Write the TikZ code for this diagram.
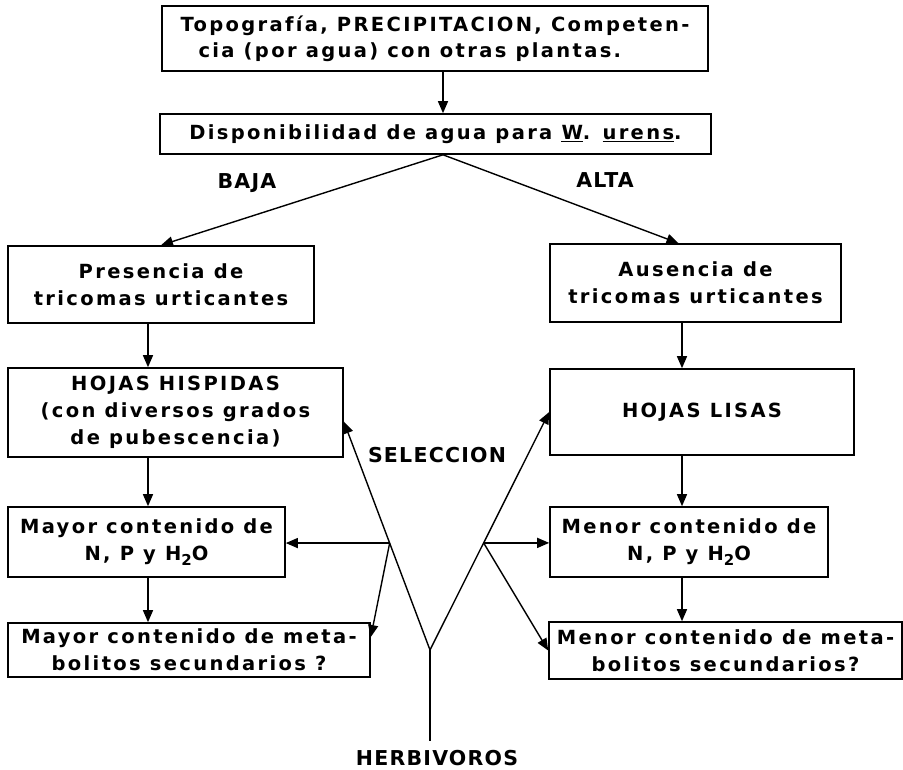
\documentclass[tikz,border=0pt]{standalone}
\usepackage{fontspec}
\usepackage{tikz}
\usetikzlibrary{arrows.meta}
\newfontfamily\rotulador{DejaVu Sans Bold}[LetterSpace=12]
\newfontfamily\rotuladoretiq{DejaVu Sans Bold}[LetterSpace=6]
\newcommand{\hdos}{H\raisebox{-5pt}{\fontsize{15}{15}\selectfont 2}O}

\begin{document}
\begin{tikzpicture}[x=1pt, y=-1pt,
    caja/.style={draw=black, line width=1.6pt, rectangle, inner sep=0pt, align=center,
        font=\rotulador\fontsize{19.5}{27}\selectfont},
    etiqueta/.style={font=\rotuladoretiq\fontsize{20.5}{24}\selectfont},
    flecha/.style={line width=1.4pt, -{Triangle[length=12pt,width=10pt]}},
    trazo/.style={line width=1.4pt}]
\useasboundingbox (0,0) rectangle (903,770);

\node [caja, minimum width=546pt, minimum height=65pt, align=left, font=\rotulador\fontsize{19.5}{26}\selectfont] (topografia) at (435,38.5) {Topografía, PRECIPITACION, Competen-\\\hspace*{18pt}cia (por agua) con otras plantas.};
\node [caja, minimum width=551pt, minimum height=40pt] (disponible) at (435.5,134) {Disponibilidad de agua para \underline{W}. \underline{urens}.};
\node [caja, minimum width=306pt, minimum height=77pt] (presencia) at (161,284.5) {Presencia de\\tricomas urticantes};
\node [caja, minimum width=291pt, minimum height=78pt] (ausencia) at (695.5,283) {Ausencia de\\tricomas urticantes};
\node [caja, minimum width=335pt, minimum height=89pt] (hispidas) at (175.5,412.5) {HOJAS HISPIDAS\\(con diversos grados\\de pubescencia)};
\node [caja, minimum width=304pt, minimum height=86pt] (lisas) at (702,412) {HOJAS LISAS};
\node [caja, minimum width=277pt, minimum height=70pt] (mayornp) at (146.5,542) {Mayor contenido de\\N, P y \hdos};
\node [caja, minimum width=278pt, minimum height=70pt] (menornp) at (689,542) {Menor contenido de\\N, P y \hdos};
\node [caja, minimum width=362pt, minimum height=54pt] (mayormet) at (189,650) {Mayor contenido de meta-\\bolitos secundarios ?};
\node [caja, minimum width=353pt, minimum height=57pt] (menormet) at (725.5,650.5) {Menor contenido de meta-\\bolitos secundarios?};

\node [etiqueta] (baja) at (247,183) {BAJA};
\node [etiqueta] (alta) at (605,180) {ALTA};
\node [etiqueta] (seleccion) at (437,455) {SELECCION};
\node [etiqueta] (herbivoros) at (437,758) {HERBIVOROS};

\coordinate (eje) at (443,0);
\coordinate (izq) at (148,0);
\coordinate (der) at (682,0);
\coordinate (horquilla) at (430,650);

\draw [flecha] (topografia.south -| eje) -- (disponible.north -| eje);
\draw [flecha] (disponible.south -| eje) -- (presencia.north);
\draw [flecha] (disponible.south -| eje) -- ([xshift=-17pt]ausencia.north);
\draw [flecha] (presencia.south -| izq) -- (hispidas.north -| izq);
\draw [flecha] (hispidas.south -| izq) -- (mayornp.north -| izq);
\draw [flecha] (mayornp.south -| izq) -- (mayormet.north -| izq);
\draw [flecha] (ausencia.south -| der) -- (lisas.north -| der);
\draw [flecha] (lisas.south -| der) -- (menornp.north -| der);
\draw [flecha] (menornp.south -| der) -- (menormet.north -| der);

\draw [trazo] ([yshift=6pt]herbivoros.north -| horquilla) -- (horquilla);
\draw [flecha] (horquilla) -- coordinate[pos=0.468] (ramaizq) ([yshift=-9pt]hispidas.east);
\draw [flecha] (horquilla) -- coordinate[pos=0.45] (ramader) (lisas.west);
\draw [flecha] (ramaizq) -- (ramaizq -| mayornp.east);
\draw [flecha] (ramaizq) -- ([yshift=13pt]mayormet.east);
\draw [flecha] (ramader) -- (ramader -| menornp.west);
\draw [flecha] (ramader) -- (menormet.west);
\end{tikzpicture}
\end{document}
